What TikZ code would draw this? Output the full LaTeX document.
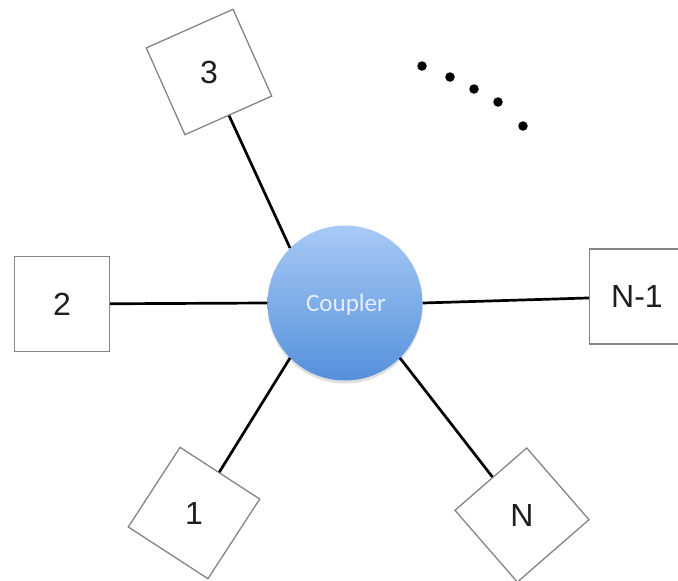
\documentclass[tikz,border=0pt]{standalone}
\usepackage{fontspec}
\setmainfont{Liberation Sans}
\newfontfamily\calib{Carlito}
\usetikzlibrary{shadows}
\definecolor{boxgray}{HTML}{858585}
\definecolor{textgray}{HTML}{1E1E1E}
\definecolor{cTop}{HTML}{A8CAF6}
\definecolor{cBot}{HTML}{5590DB}
\definecolor{coupText}{HTML}{E6EEFA}
\begin{document}
\begin{tikzpicture}[x=1pt,y=-1pt,
  box/.style={draw=boxgray, line width=1.3pt, minimum size=95pt, inner sep=0pt, fill=white},
  lbl/.style={font=\fontsize{32}{38}\selectfont, text=textgray, inner sep=0pt},
  wire/.style={line width=2.7pt, black},
  dotnode/.style={circle, fill=black, minimum size=9.5pt, inner sep=0pt}]
\clip (0,0) rectangle (678,581);
\fill[white] (0,0) rectangle (678,581);
% coupler
\node[circle, minimum size=155pt, inner sep=0pt, top color=cTop, bottom color=cBot,
      drop shadow={shadow xshift=0pt, shadow yshift=-3pt, opacity=0.25}] (coup) at (345,303) {};
\node[font=\calib\fontsize{25}{30}\selectfont, text=coupText] (couplbl) at (346,305) {Coupler};
% boxes
\node[box, rotate=24] (box3) at (209,72) {};
\node[box] (box2) at (62,304) {};
\node[box, rotate=-33] (box1) at (194,513) {};
\node[box, rotate=-49] (boxN) at (522,515) {};
\node[box] (boxNm) at (637,296.5) {};
% labels
\node[lbl] (t3) at (box3.center) {3};
\node[lbl] (t2) at (box2.center) {2};
\node[lbl] (t1) at (box1.center) {1};
\node[lbl] (tN) at (boxN.center) {N};
\node[lbl] (tNm) at (boxNm.center) {N-1};
% wires
\draw[wire] (coup.135) -- (box3);
\draw[wire] (coup.180) -- (box2);
\draw[wire] (coup.225) -- (box1);
\draw[wire] (coup.315) -- (boxN);
\draw[wire] (coup.0) -- (boxNm);
% dots
\node[dotnode] (d1) at (422,66) {};
\node[dotnode] (d2) at (450,77) {};
\node[dotnode] (d3) at (474,89) {};
\node[dotnode] (d4) at (498,102) {};
\node[dotnode] (d5) at (523,126) {};
\end{tikzpicture}
\end{document}
